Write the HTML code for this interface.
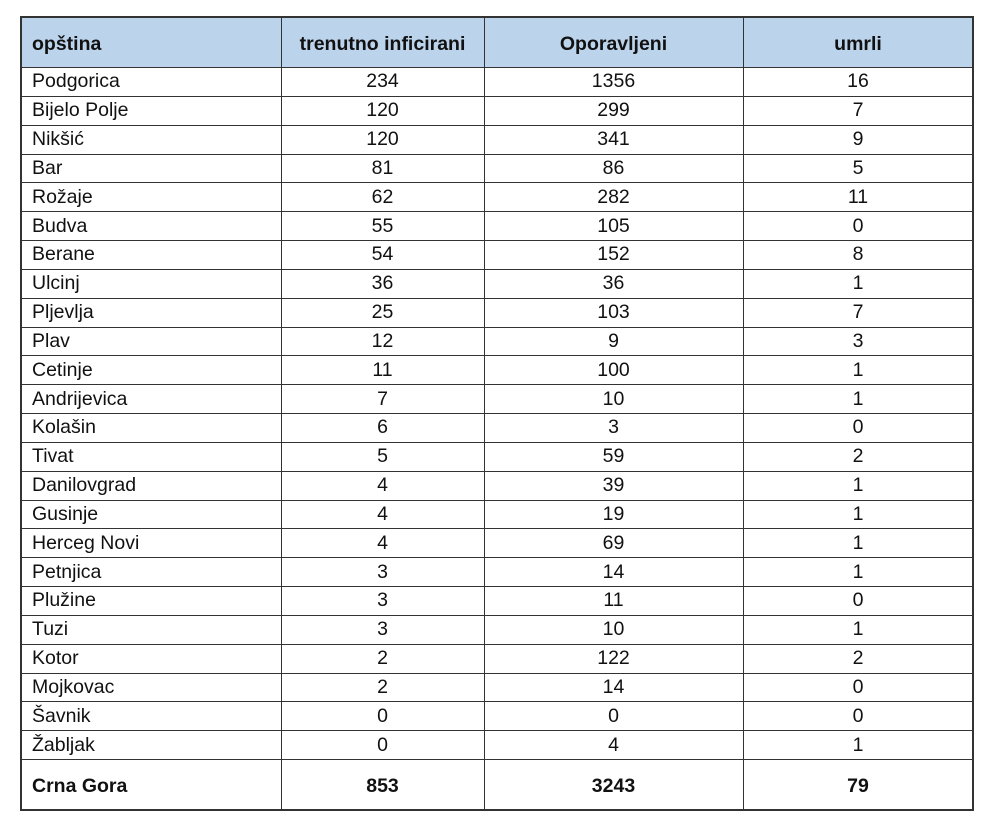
<!DOCTYPE html>
<html><head><meta charset="utf-8"><style>
body{margin:0;width:1000px;height:828px;background:#fff;font-family:"Liberation Sans",sans-serif;color:#111;position:relative;overflow:hidden}
.c{position:absolute;box-sizing:border-box;display:flex;align-items:center;font-size:19.5px;padding-top:1px}
.l{padding-left:11px}
.m{justify-content:center}
.b{font-weight:bold;font-size:19.5px}
.h{background:#bcd3ec}
.ln{position:absolute;background:#333}
</style></head><body>
<div id="t"></div>
<script>
var cols=[21,281,484,743,973];
var rows=[["Podgorica",234,1356,16],["Bijelo Polje",120,299,7],["Nikšić",120,341,9],["Bar",81,86,5],["Rožaje",62,282,11],["Budva",55,105,0],["Berane",54,152,8],["Ulcinj",36,36,1],["Pljevlja",25,103,7],["Plav",12,9,3],["Cetinje",11,100,1],["Andrijevica",7,10,1],["Kolašin",6,3,0],["Tivat",5,59,2],["Danilovgrad",4,39,1],["Gusinje",4,19,1],["Herceg Novi",4,69,1],["Petnjica",3,14,1],["Plužine",3,11,0],["Tuzi",3,10,1],["Kotor",2,122,2],["Mojkovac",2,14,0],["Šavnik",0,0,0],["Žabljak",0,4,1]];
var h="";
h+='<div class="h" style="position:absolute;left:21px;top:16px;width:952px;height:51px"></div>';
function cell(x,y,w,hh,txt,cls){return '<div class="c '+cls+'" style="left:'+x+'px;top:'+y+'px;width:'+w+'px;height:'+hh+'px">'+txt+'</div>';}
var hd=["opština","trenutno inficirani","Oporavljeni","umrli"];
for(var j=0;j<4;j++)h+=cell(cols[j],18,cols[j+1]-cols[j],51,hd[j],(j?"m":"l")+" b");
var rh=(759-67)/24;
for(var i=0;i<24;i++){var y=67+i*rh;for(var j=0;j<4;j++)h+=cell(cols[j],y,cols[j+1]-cols[j],rh,rows[i][j],j?"m":"l");
 h+='<div class="ln" style="left:21px;top:'+Math.round(y)+'px;width:952px;height:1px"></div>';}
var tot=["Crna Gora",853,3243,79];
for(var j=0;j<4;j++)h+=cell(cols[j],760,cols[j+1]-cols[j],51,tot[j],(j?"m":"l")+" b");
h+='<div class="ln" style="left:21px;top:759px;width:952px;height:1px"></div>';
h+='<div class="ln" style="left:21px;top:16px;width:952px;height:2px"></div>';
h+='<div class="ln" style="left:21px;top:809px;width:952px;height:2px"></div>';
for(var j=0;j<5;j++)h+='<div class="ln" style="left:'+(cols[j]-(j==0||j==4?1:0))+'px;top:16px;width:'+(j==0||j==4?2:1)+'px;height:795px"></div>';
document.getElementById("t").innerHTML=h;
</script>
</body></html>
